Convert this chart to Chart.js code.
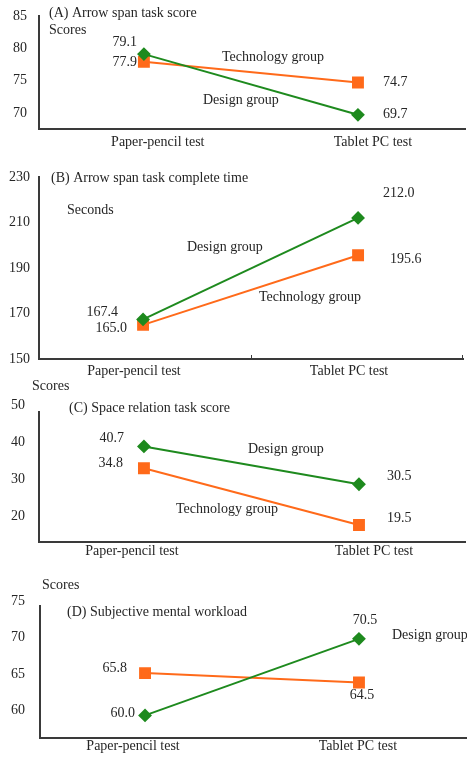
<!DOCTYPE html>
<html><head><meta charset="utf-8">
<script src="https://cdn.jsdelivr.net/npm/chart.js@4/dist/chart.umd.min.js"></script>
<style>
html,body{margin:0;padding:0;background:#fff;width:467px;height:757px;overflow:hidden}
.p{position:absolute;left:0;width:467px}
canvas{display:block}
</style></head>
<body>
<div class="p" style="top:0px"><canvas id="ca" width="467" height="157"></canvas></div>
<div class="p" style="top:157px"><canvas id="cb" width="467" height="221"></canvas></div>
<div class="p" style="top:378px"><canvas id="cc" width="467" height="182"></canvas></div>
<div class="p" style="top:560px"><canvas id="cd" width="467" height="197"></canvas></div>
<script>
// ---- data ----
const categories = ['Paper-pencil test', 'Tablet PC test'];
const seriesNames = ['Design group', 'Technology group'];

const arrowScoreDesign = [79.1, 69.7];
const arrowScoreTech   = [77.9, 74.7];
const arrowTimeDesign  = [167.4, 212.0];
const arrowTimeTech    = [165.0, 195.6];
const spaceScoreDesign = [40.7, 30.5];
const spaceScoreTech   = [34.8, 19.5];
const workloadDesign   = [60.0, 70.5];
const workloadTech     = [65.8, 64.5];

const ticksA = [70, 75, 80, 85];
const ticksB = [150, 170, 190, 210, 230];
const ticksC = [20, 30, 40, 50];
const ticksD = [60, 65, 70, 75];

// ---- styling ----
const GREEN = '#1e8a1e';
const ORANGE = '#ff6a1a';
const TXT = '#262626';
const AXIS = '#3a3a3a';
const FONT = {family: '"Liberation Serif","Times New Roman",serif', size: 14};
const FONTSTR = '14px "Liberation Serif","Times New Roman",serif';

function makePanel(c) {
  const pts = arr => arr.map((v, i) => ({x: i, y: v}));
  const txtPlugin = {
    id: 'txt',
    afterDraw(chart) {
      const ctx = chart.ctx;
      ctx.save();
      ctx.font = FONTSTR;
      ctx.fillStyle = TXT;
      ctx.textBaseline = 'middle';
      c.texts.forEach(t => {
        ctx.textAlign = 'left';
        ctx.fillText(t[0], t[1], t[2] - c.top);
      });
      chart.data.datasets.forEach((ds, di) => {
        const meta = chart.getDatasetMeta(di);
        meta.data.forEach((el, i) => {
          const o = c.valueLabels[di][i];
          ctx.textAlign = o[2];
          ctx.fillText(ds.data[i].y.toFixed(1), el.x + o[0], el.y + o[1]);
        });
      });
      if (c.extraTicks) {
        const xs = chart.scales.x, a = chart.chartArea;
        ctx.strokeStyle = AXIS; ctx.lineWidth = 1;
        c.extraTicks.forEach(v => {
          const px = Math.round(xs.getPixelForValue(v)) + 0.5;
          ctx.beginPath(); ctx.moveTo(px, a.bottom); ctx.lineTo(px, a.bottom - 4); ctx.stroke();
        });
      }
      ctx.restore();
    }
  };
  return new Chart(document.getElementById(c.id), {
    type: 'line',
    data: {
      datasets: [
        {label: seriesNames[0], data: pts(c.design), borderColor: GREEN, backgroundColor: GREEN,
         borderWidth: 2, pointStyle: 'rectRot', pointRadius: 5.5, tension: 0},
        {label: seriesNames[1], data: pts(c.tech), borderColor: ORANGE, backgroundColor: ORANGE,
         borderWidth: 2, pointStyle: 'rect', pointRadius: 7, tension: 0}
      ]
    },
    options: {
      responsive: false,
      animation: false,
      devicePixelRatio: 1,
      layout: {autoPadding: false, padding: {top: c.padTop, right: c.padRight, left: 0, bottom: 0}},
      plugins: {legend: {display: false}, tooltip: {enabled: false}},
      scales: {
        x: {
          type: 'linear', min: c.xMin, max: c.xMax,
          afterBuildTicks: s => { s.ticks = c.xLabelPos.map(v => ({value: v})); },
          afterFit: s => { s.height = c.xHeight; s.paddingLeft = 0; s.paddingRight = 0; },
          ticks: {callback: (v, i) => categories[i], font: FONT, color: TXT, padding: c.xPad,
                  maxRotation: 0, autoSkip: false},
          grid: {display: false, drawTicks: false},
          border: {display: true, color: AXIS, width: 2}
        },
        y: {
          type: 'linear', min: c.yMin, max: c.yMax,
          afterBuildTicks: s => { s.ticks = c.yTicks.map(v => ({value: v})); },
          afterFit: s => { s.width = c.yWidth; s.paddingTop = 0; s.paddingBottom = 0; },
          ticks: {font: FONT, color: TXT, padding: c.yPad, labelOffset: c.yOff},
          grid: {display: false, drawTicks: false},
          border: {display: true, color: AXIS, width: 2}
        }
      }
    },
    plugins: [txtPlugin]
  });
}

makePanel({
  id: 'ca', top: 0, padTop: 16, padRight: 2, yWidth: 39, xHeight: 28,
  yMin: 67.5, yMax: 85, yTicks: ticksA, yPad: 12, yOff: 0,
  xMin: -0.49, xMax: 1.5, xLabelPos: [0.065, 1.07], xPad: 5,
  design: arrowScoreDesign, tech: arrowScoreTech,
  valueLabels: [[[-7, -12, 'right'], [25, 0, 'left']], [[-7, 0, 'right'], [25, 0, 'left']]],
  texts: [['(A) Arrow span task score', 49, 13], ['Scores', 49, 30],
          ['Technology group', 222, 57], ['Design group', 203, 100]]
});

makePanel({
  id: 'cb', top: 157, padTop: 20, padRight: 4, yWidth: 39, xHeight: 19,
  yMin: 150, yMax: 230, yTicks: ticksB, yPad: 9, yOff: 0,
  xMin: -0.484, xMax: 1.488, xLabelPos: [-0.042, 0.958], xPad: 4,
  extraTicks: [0.5, 1.485],
  design: arrowTimeDesign, tech: arrowTimeTech,
  valueLabels: [[[-25, -7, 'right'], [25, -25, 'left']], [[-16, 3, 'right'], [32, 4, 'left']]],
  texts: [['(B) Arrow span task complete time', 51, 178], ['Seconds', 67, 210],
          ['Design group', 187, 247], ['Technology group', 259, 297]]
});

makePanel({
  id: 'cc', top: 378, padTop: 34, padRight: 2, yWidth: 39, xHeight: 18,
  yMin: 14.9, yMax: 50, yTicks: ticksC, yPad: 14, yOff: -7,
  xMin: -0.488, xMax: 1.493, xLabelPos: [-0.056, 1.07], xPad: 1,
  design: spaceScoreDesign, tech: spaceScoreTech,
  valueLabels: [[[-20, -8, 'right'], [28, -8, 'left']], [[-21, -5, 'right'], [28, -7, 'left']]],
  texts: [['Scores', 32, 386], ['(C) Space relation task score', 69, 408],
          ['Design group', 248, 449], ['Technology group', 176, 509]]
});

makePanel({
  id: 'cd', top: 560, padTop: 46, padRight: 0, yWidth: 40, xHeight: 19,
  yMin: 56.9, yMax: 75, yTicks: ticksD, yPad: 15, yOff: -5,
  xMin: -0.491, xMax: 1.505, xLabelPos: [-0.056, 0.995], xPad: 0,
  design: workloadDesign, tech: workloadTech,
  valueLabels: [[[-10, -2, 'right'], [6, -18, 'center']], [[-18, -5, 'right'], [3, 13, 'center']]],
  texts: [['Scores', 42, 585], ['(D) Subjective mental workload', 67, 612],
          ['Design group', 392, 635]]
});
</script>
</body></html>
